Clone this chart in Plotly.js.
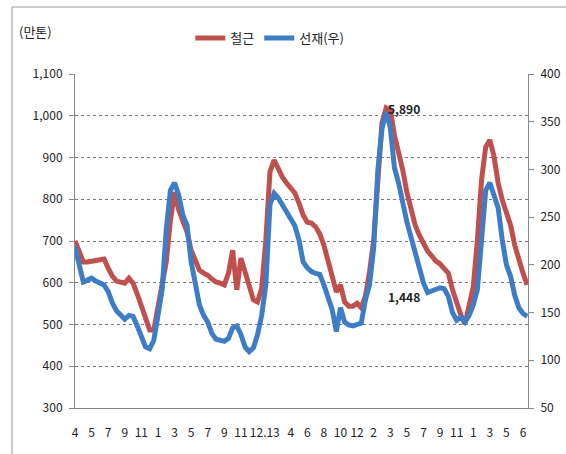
<!DOCTYPE html>
<html>
<head>
<meta charset="utf-8">
<script src="https://cdn.plot.ly/plotly-3.0.1.min.js"></script>
<style>html,body{margin:0;padding:0;background:#fff;}#chart{width:566px;height:454px;}</style>
</head>
<body>
<div id="chart"></div>
<script>
// Weekly index (every 2 weeks sampled), April of year 1 to June of year 5
const weekIndex = [0,2,4,6,8,10,12,14,16,18,20,22,24,26,28,30,32,34,36,38,40,42,44,46,48,50,52,54,56,58,60,62,64,66,68,70,72,74,76,78,80,82,84,86,88,90,92,94,96,98,100,102,104,106,108,110,112,114,116,118,120,122,124,126,128,130,132,134,136,138,140,142,144,146,148,150,152,154,156,158,160,162,164,166,168,170,172,174,176,178,180,182,184,186,188,190,192,194,196,198,200,202,204,206,208,210,212,214,216,218];

// 철근 (left axis, 만톤)
const rebar = [700,678,650,650,652,654,657,657,635,616,604,602,599,611,599,573,544,513,487,487,540,595,650,750,817,774,750,722,678,654,630,623,618,609,602,599,595,623,678,583,659,626,587,559,554,587,702,865,894,870,853,839,827,815,791,762,745,743,734,717,690,650,614,578,595,554,544,544,551,540,568,626,702,834,983,1019,1014,954,913,870,817,777,738,714,693,676,664,652,645,635,623,583,549,523,501,547,590,702,846,925,942,903,839,798,769,738,690,654,623,595];

// 선재 (right axis)
const wireRod = [219,200,182,184,186,183,181,179,172,160,152,147,143,147,146,136,124,114,112,121,147,174,237,278,286,273,252,242,203,182,158,147,140,128,122,121,120,123,134,136,127,114,109,113,127,147,179,263,275,270,263,255,249,241,226,203,197,193,191,190,179,167,153,130,155,140,137,136,138,139,163,179,218,299,343,360,344,302,286,263,245,229,213,195,181,171,173,175,176,175,167,150,142,145,140,147,158,174,231,278,286,273,260,226,200,188,168,155,149,146];

// x tick labels
const tickPos = [0,8,16,24,32,40,48,56,64,72,80,91.5,104,112,120,128,136,144,152,160,168,176,184,192,200,208,216];
const tickLabels = ["4","5","7","9","11","1","3","5","7","9","11","12.13","4","6","8","10","12","2","3","5","7","9","11","1","3","5","6"];

const seriesNames = ["철근","선재(우)"];
const noteLabels = ["5,890","1,448"];
const noteX = [150,150];
const noteY = [1018,568];

const font = "'Noto Sans CJK KR', 'Noto Sans', sans-serif";

const traces = [
  {x: weekIndex, y: rebar, name: seriesNames[0], type: 'scatter', mode: 'lines',
   line: {color: '#c0504d', width: 5}, yaxis: 'y'},
  {x: weekIndex, y: wireRod, name: seriesNames[1], type: 'scatter', mode: 'lines',
   line: {color: '#3f7cc6', width: 5}, yaxis: 'y2'}
];

const layout = {
  width: 566, height: 454,
  margin: {l: 75, r: 38, t: 74, b: 46},
  paper_bgcolor: '#fff', plot_bgcolor: '#fff',
  font: {family: font, size: 12, color: '#222'},
  showlegend: true,
  legend: {orientation: 'h', x: 0.43, xanchor: 'center', y: 1.108, yanchor: 'middle',
           font: {size: 13, color: '#222'}, itemwidth: 30, tracegroupgap: 0, bgcolor: 'rgba(0,0,0,0)'},
  xaxis: {range: [0, 218.4], tickmode: 'array', tickvals: tickPos, ticktext: tickLabels,
          showgrid: false, zeroline: false, showline: true, linecolor: '#888', linewidth: 1,
          ticks: '', ticklabelstandoff: 14, tickangle: 0, tickfont: {size: 12, color: '#222'}},
  yaxis: {range: [300, 1100], dtick: 100, tick0: 300, tickformat: ',d',
          showgrid: true, gridcolor: '#777', griddash: 'dot', gridwidth: 1,
          zeroline: false, showline: true, linecolor: '#888', linewidth: 1,
          ticks: 'outside', ticklen: 5, tickcolor: '#888', ticklabelstandoff: 4,
          tickfont: {size: 12, color: '#222'}},
  yaxis2: {range: [50, 400], dtick: 50, tick0: 50, overlaying: 'y', side: 'right',
           showgrid: false, zeroline: false, showline: true, linecolor: '#888', linewidth: 1,
           ticks: 'outside', ticklen: 5, tickcolor: '#888', ticklabelstandoff: 4,
           tickfont: {size: 12, color: '#222'}},
  annotations: [
    {xref: 'paper', yref: 'paper', x: -0.128, y: 1.126, xanchor: 'left', yanchor: 'middle',
     text: '(만톤)', showarrow: false, font: {size: 13, color: '#222'}},
    {x: noteX[0], y: noteY[0], xref: 'x', yref: 'y', xanchor: 'left', yanchor: 'middle',
     text: '<b>' + noteLabels[0] + '</b>', showarrow: false, font: {size: 12, color: '#222'}},
    {x: noteX[1], y: noteY[1], xref: 'x', yref: 'y', xanchor: 'left', yanchor: 'middle',
     text: '<b>' + noteLabels[1] + '</b>', showarrow: false, font: {size: 12, color: '#222'}}
  ],
  shapes: [
    {type: 'rect', xref: 'paper', yref: 'paper', x0: -0.139, x1: 1.2, y0: -0.3, y1: 1.2006,
     line: {color: '#999', width: 1}, fillcolor: 'rgba(0,0,0,0)', layer: 'below'}
  ]
};

Plotly.newPlot('chart', traces, layout, {displayModeBar: false, staticPlot: true});
</script>
</body>
</html>
